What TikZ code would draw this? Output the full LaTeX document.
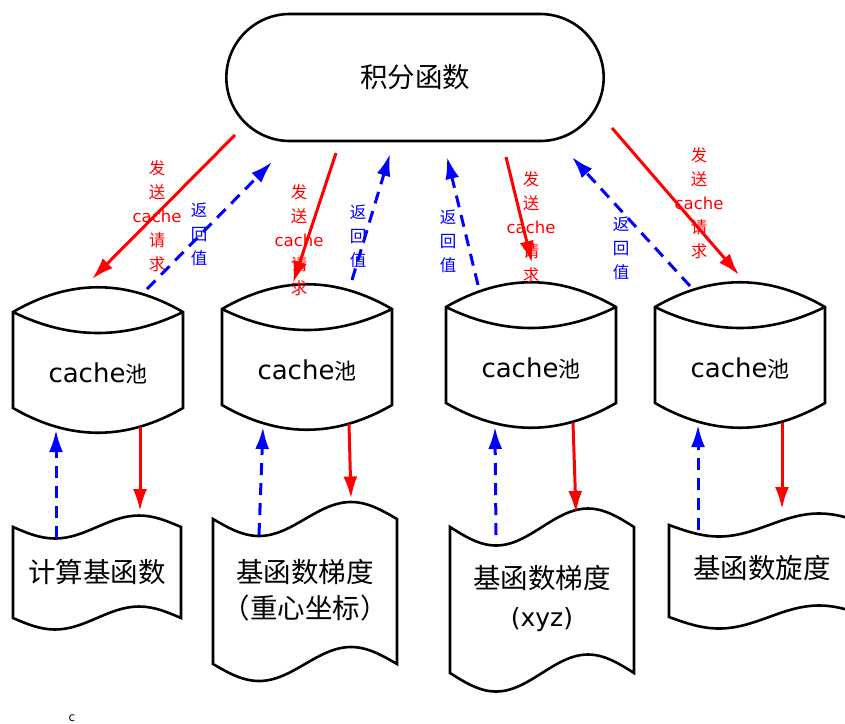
\documentclass[tikz,border=0pt]{standalone}
\usepackage{fontspec}
\setmainfont{Noto Sans CJK SC}
\newfontfamily\lat{DejaVu Sans}
\usetikzlibrary{shapes.misc, arrows.meta, calc}

\begin{document}
\begin{tikzpicture}[x=1pt, y=-1pt,
      box/.style={line width=2.6pt},
      big/.style={font=\fontsize{27.5}{37}\selectfont, align=center},
      req/.style={->, red, line width=3pt},
      ret/.style={->, blue, line width=3pt, dash pattern=on 12pt off 8pt},
      >={Latex[length=22pt,width=14pt]},
      tag/.style={align=center, font=\fontsize{16.5}{24}\selectfont, inner sep=0pt}]
   \useasboundingbox (0,0) rectangle (845,723);
           \node[draw, box, rounded rectangle, minimum width=384pt, minimum height=127pt, big](integ)  at (415,77.5) {积分函数};
           \node[font=\fontsize{22}{26}\selectfont](pool1)  at (98,373) {{\lat\fontsize{26}{26}\selectfont cache}池};
           \node[font=\fontsize{22}{26}\selectfont](pool2)  at (307,370) {{\lat\fontsize{26}{26}\selectfont cache}池};
           \node[font=\fontsize{22}{26}\selectfont](pool3)  at (531,368) {{\lat\fontsize{26}{26}\selectfont cache}池};
           \node[font=\fontsize{22}{26}\selectfont](pool4)  at (740,368) {{\lat\fontsize{26}{26}\selectfont cache}池};
      \node[big](doc1)  at (97,572) {计算基函数};
      \node[big, font=\fontsize{27.5}{36}\selectfont](doc2)  at (305,590) {基函数梯度\\（重心坐标）};
      \node[big, font=\fontsize{27.5}{38}\selectfont](doc3)  at (542,598) {基函数梯度\\{\lat\fontsize{25}{25}\selectfont (xyz)}};
      \node[big](doc4)  at (762,568) {基函数旋度};
      \node[font=\lat\fontsize{12}{12}\selectfont, inner sep=0pt](mark)  at (72,718) {c};
   \foreach \p in {pool1,pool2,pool3,pool4}{
      \draw[box] ($(\p.center)+(-85,-61)$) .. controls ($(\p.center)+(-28,-94)$) and ($(\p.center)+(28,-94)$) .. ($(\p.center)+(85,-61)$)
         -- ($(\p.center)+(85,35)$) .. controls ($(\p.center)+(28,68)$) and ($(\p.center)+(-28,68)$) .. ($(\p.center)+(-85,35)$) -- cycle;
      \draw[box] ($(\p.center)+(-85,-61)$) .. controls ($(\p.center)+(-28,-33)$) and ($(\p.center)+(28,-33)$) .. ($(\p.center)+(85,-61)$);
   }
   \foreach \d/\lx/\ww/\ty/\by/\amp in {doc1/-84/168/-45/46/11.5, doc2/-92/184/-71/74/17, doc3/-92/184/-71/75/18.5, doc4/-93/200/-43/49/11.5}{
      \draw[box] ($(\d.center)+(\lx,\ty)$) sin ++(\ww/4,\amp) cos ++(\ww/4,-\amp) sin ++(\ww/4,-\amp) cos ++(\ww/4,\amp)
         -- ($(\d.center)+(\lx+\ww,\by)$) sin ++(-\ww/4,-\amp) cos ++(-\ww/4,\amp) sin ++(-\ww/4,\amp) cos ++(-\ww/4,-\amp) -- cycle;
   }
      \node[tag, red](send1)  at (157,216) {发\\送\\{\lat cache}\\请\\求};
      \node[tag, red](send2)  at (299,240) {发\\送\\{\lat cache}\\请\\求};
      \node[tag, red](send3)  at (531,227) {发\\送\\{\lat cache}\\请\\求};
      \node[tag, red](send4)  at (699,203) {发\\送\\{\lat cache}\\请\\求};
      \node[tag, blue](ret1)  at (199,234) {返\\回\\值};
      \node[tag, blue](ret2)  at (358,236) {返\\回\\值};
      \node[tag, blue](ret3)  at (448,241) {返\\回\\值};
      \node[tag, blue](ret4)  at (621,248) {返\\回\\值};
      \draw[req] ($(integ.center)+(-180,57.5)$) -- ($(pool1.center)+(-6,-94)$);
      \draw[ret] ($(pool1.center)+(49,-84)$) -- ($(integ.center)+(-143,84.5)$);
      \draw[req] ($(integ.center)+(-79,75.5)$) -- ($(pool2.center)+(-14,-87)$);
      \draw[ret] ($(pool2.center)+(45,-90)$) -- ($(integ.center)+(-25,76.5)$);
      \draw[ret] ($(pool3.center)+(-53,-83)$) -- ($(integ.center)+(32,79.5)$);
      \draw[req] ($(integ.center)+(91,79.5)$) -- ($(pool3.center)+(1,-105)$);
      \draw[ret] ($(pool4.center)+(-50,-82)$) -- ($(integ.center)+(157,79.5)$);
      \draw[req] ($(integ.center)+(197,50.5)$) -- ($(pool4.center)+(-1,-93)$);
      \draw[ret] ($(doc1.center)+(-41,-34)$) -- ($(pool1.center)+(-42,57)$);
      \draw[req] ($(pool1.center)+(42,54)$) -- ($(doc1.center)+(43,-61)$);
      \draw[ret] ($(doc2.center)+(-46,-55)$) -- ($(pool2.center)+(-44,57)$);
      \draw[req] ($(pool2.center)+(42,54)$) -- ($(doc2.center)+(46,-91.5)$);
      \draw[ret] ($(doc3.center)+(-46,-63)$) -- ($(pool3.center)+(-36,59)$);
      \draw[req] ($(pool3.center)+(42,55)$) -- ($(doc3.center)+(34,-85)$);
      \draw[ret] ($(doc4.center)+(-64,-38)$) -- ($(pool4.center)+(-42,57)$);
      \draw[req] ($(pool4.center)+(42,55)$) -- ($(doc4.center)+(20,-59)$);
\end{tikzpicture}
\end{document}
